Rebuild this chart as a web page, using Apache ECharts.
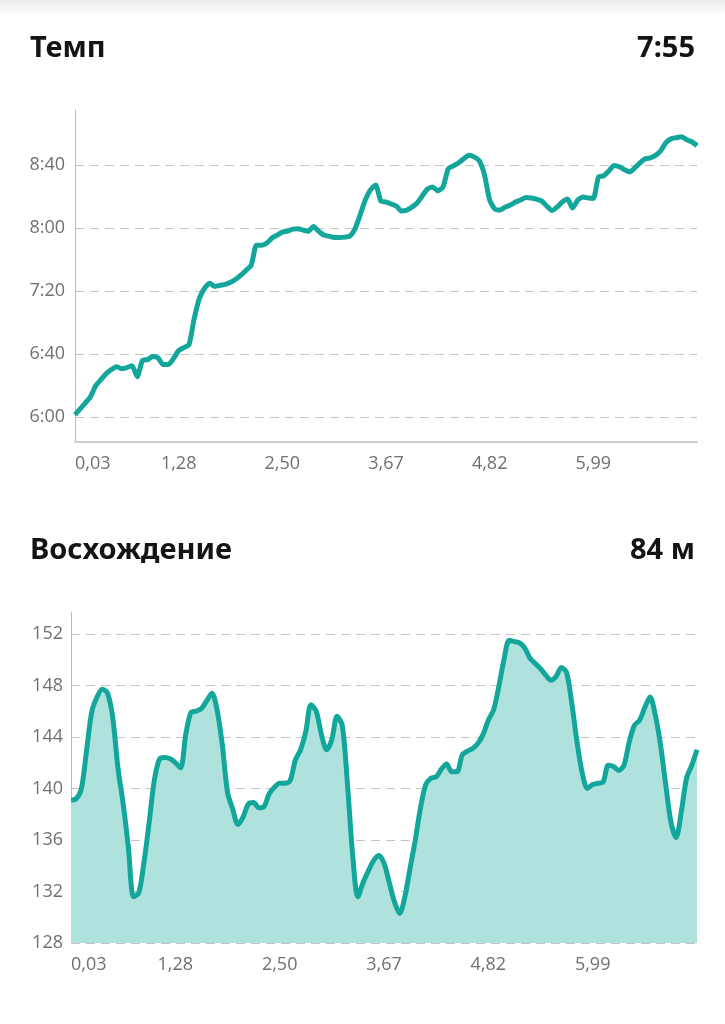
<!DOCTYPE html>
<html>
<head>
<meta charset="utf-8">
<script src="https://cdn.jsdelivr.net/npm/echarts@6/dist/echarts.min.js"></script>
<style>
  html, body { margin: 0; padding: 0; background: #fff; }
  #chart { width: 725px; height: 1024px; }
</style>
</head>
<body>
<div id="chart"></div>
<script>
// x axis tick labels, km (one label per 20 samples)
const distLabels = ['0,03', '1,28', '2,50', '3,67', '4,82', '5,99'];

// pace, seconds per km, 121 samples
const paceSec = [
  361.3, 365.1, 368.9, 372.8, 379.8, 383.6, 387.4, 390.0, 391.9, 390.6,
  391.3, 392.5, 385.5, 395.7, 396.4, 398.3, 397.6, 393.2, 393.2, 397.0,
  402.1, 404.0, 405.9, 422.5, 435.3, 441.7, 444.9, 442.9, 443.6, 444.2,
  445.5, 447.4, 450.0, 453.1, 456.3, 469.1, 469.1, 470.4, 473.6, 475.5,
  477.4, 478.0, 479.3, 479.6, 478.7, 478.0, 480.9, 478.0, 475.5, 474.8,
  473.9, 473.9, 474.2, 474.8, 479.3, 488.2, 497.8, 504.2, 507.4, 497.2,
  496.5, 495.3, 494.0, 490.8, 491.4, 493.3, 495.9, 500.4, 504.8, 506.1,
  503.6, 506.1, 517.6, 519.5, 521.4, 524.0, 526.2, 525.2, 522.7, 513.8,
  497.8, 492.1, 491.4, 493.3, 494.6, 496.5, 497.8, 499.4, 499.1, 498.4,
  497.2, 494.0, 491.1, 493.3, 496.5, 498.4, 492.7, 497.8, 499.7, 499.1,
  498.8, 512.5, 513.1, 516.3, 519.8, 518.9, 517.0, 515.7, 518.2, 521.4,
  524.0, 524.6, 526.2, 529.1, 534.2, 536.7, 537.4, 538.0, 536.1, 534.8,
  532.3
];

// elevation, m, 121 samples
const elevation = [
  139.1, 139.2, 140.0, 143.0, 146.0, 147.1, 147.7, 147.4, 145.5, 141.6,
  138.8, 135.4, 131.6, 131.9, 134.3, 137.4, 140.7, 142.3, 142.4, 142.3,
  142.0, 141.6, 144.2, 145.9, 146.0, 146.2, 146.8, 147.4, 146.1, 143.4,
  139.7, 138.4, 137.2, 137.8, 138.8, 138.9, 138.5, 138.6, 139.6, 140.1,
  140.4, 140.4, 140.6, 142.2, 143.0, 144.4, 146.5, 146.0, 144.2, 143.0,
  143.8, 145.6, 144.9, 140.3, 134.8, 131.6, 132.7, 133.6, 134.4, 134.8,
  134.2, 132.7, 131.2, 130.3, 131.6, 133.8, 136.0, 138.5, 140.3, 140.8,
  140.9, 141.5, 141.9, 141.3, 141.3, 142.6, 142.9, 143.1, 143.5, 144.2,
  145.3, 146.1, 147.9, 150.0, 151.5, 151.4, 151.3, 150.9, 150.1, 149.7,
  149.3, 148.8, 148.4, 148.7, 149.4, 149.0, 146.6, 143.6, 141.2, 140.0,
  140.3, 140.4, 140.5, 141.8, 141.7, 141.4, 141.8, 143.6, 144.9, 145.3,
  146.3, 147.1, 145.7, 143.4, 140.3, 137.4, 136.2, 138.2, 140.8, 141.8,
  143.0
];

const paceSummary = '7:55';
const climbSummary = '84 м';

const teal = '#13a69a';
const tealFill = '#b0e2dd';
const labelColor = '#707070';
const labelFont = '"Open Sans", "Noto Sans", sans-serif';
const titleFont = 'bold 29px "Noto Sans", "Open Sans", sans-serif';

function fmtPace(v) {
  const m = Math.floor(v / 60);
  const s = Math.round(v - m * 60);
  return m + ':' + (s < 10 ? '0' : '') + s;
}

const toPairs = arr => arr.map((v, i) => [i, v]);

function xAxisOf(gridIndex, showLine) {
  return {
    type: 'value',
    gridIndex: gridIndex,
    min: 0,
    max: 120,
    interval: 20,
    axisLine: { show: showLine, lineStyle: { color: '#cccccc', width: 2 } },
    axisTick: { show: false },
    splitLine: { show: false },
    axisLabel: {
      color: labelColor,
      fontFamily: labelFont,
      fontSize: 18,
      margin: 13,
      showMaxLabel: false,
      alignMinLabel: 'left',
      formatter: v => distLabels[Math.round(v / 20)] || ''
    }
  };
}

const gridLine = { color: '#c4c4c4', width: 1.2, type: [9, 6] };

const chart = echarts.init(document.getElementById('chart'), null, { renderer: 'canvas' });

chart.setOption({
  animation: false,
  backgroundColor: '#ffffff',
  graphic: [
    {
      type: 'rect',
      shape: { x: 0, y: 0, width: 725, height: 16 },
      style: {
        fill: new echarts.graphic.LinearGradient(0, 0, 0, 1, [
          { offset: 0, color: 'rgba(0,0,0,0.08)' },
          { offset: 1, color: 'rgba(0,0,0,0)' }
        ])
      },
      silent: true
    },
    { type: 'text', style: { text: 'Темп', x: 30, y: 49, textVerticalAlign: 'middle', font: titleFont, fill: '#141414' } },
    { type: 'text', style: { text: paceSummary, x: 695, y: 49, textAlign: 'right', textVerticalAlign: 'middle', font: titleFont, fill: '#141414' } },
    { type: 'text', style: { text: 'Восхождение', x: 30, y: 551, textVerticalAlign: 'middle', font: titleFont, fill: '#141414' } },
    { type: 'text', style: { text: climbSummary, x: 695, y: 551, textAlign: 'right', textVerticalAlign: 'middle', font: titleFont, fill: '#141414' } }
  ],
  grid: [
    { left: 75, right: 28, top: 110, height: 332 },
    { left: 71, right: 28, top: 612, height: 331 }
  ],
  xAxis: [xAxisOf(0, true), xAxisOf(1, false)],
  yAxis: [
    {
      type: 'value',
      gridIndex: 0,
      min: 344,
      max: 555,
      minInterval: 40,
      maxInterval: 40,
      axisLine: { show: true, lineStyle: { color: '#bdbdbd', width: 1 } },
      axisTick: { show: false },
      splitLine: { show: true, showMinLine: false, showMaxLine: false, lineStyle: gridLine },
      axisLabel: {
        color: labelColor,
        fontFamily: labelFont,
        fontSize: 18,
        margin: 10,
        showMinLabel: false,
        showMaxLabel: false,
        formatter: fmtPace
      }
    },
    {
      type: 'value',
      gridIndex: 1,
      min: 128,
      max: 153.7,
      interval: 4,
      axisLine: { show: true, lineStyle: { color: '#bdbdbd', width: 1 } },
      axisTick: { show: false },
      splitLine: { show: true, showMaxLine: false, lineStyle: gridLine },
      axisLabel: {
        color: labelColor,
        fontFamily: labelFont,
        fontSize: 18,
        margin: 8,
        showMaxLabel: false
      }
    }
  ],
  series: [
    {
      type: 'line',
      xAxisIndex: 0,
      yAxisIndex: 0,
      data: toPairs(paceSec),
      showSymbol: false,
      smooth: 0.2,
      lineStyle: { color: teal, width: 5 }
    },
    {
      type: 'line',
      xAxisIndex: 1,
      yAxisIndex: 1,
      data: toPairs(elevation),
      showSymbol: false,
      smooth: 0.3,
      lineStyle: { color: teal, width: 5 },
      areaStyle: { color: tealFill, opacity: 1, origin: 'start' }
    }
  ]
});
</script>
</body>
</html>
